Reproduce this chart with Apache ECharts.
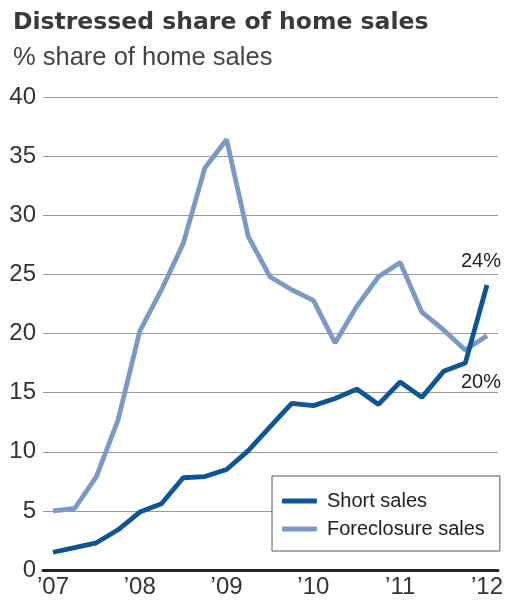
<!DOCTYPE html>
<html><head><meta charset="utf-8">
<script src="https://cdn.jsdelivr.net/npm/echarts@6/dist/echarts.min.js"></script>
<style>html,body{margin:0;padding:0;background:#fff}#c{width:510px;height:602px}</style>
</head><body><div id="c"></div>
<script>
// Quarterly data, Q1 2007 .. Q1 2012
const quarters = ['2007Q1','2007Q2','2007Q3','2007Q4','2008Q1','2008Q2','2008Q3','2008Q4','2009Q1','2009Q2','2009Q3','2009Q4','2010Q1','2010Q2','2010Q3','2010Q4','2011Q1','2011Q2','2011Q3','2011Q4','2012Q1'];
const shortSales = [1.5,1.9,2.3,3.4,4.9,5.6,7.8,7.9,8.5,10.1,12.1,14.1,13.9,14.5,15.3,14.0,15.9,14.6,16.8,17.5,24.1];
const foreclosureSales = [5.0,5.2,7.9,12.7,20.2,23.7,27.6,34.0,36.4,28.2,24.8,23.7,22.8,19.2,22.3,24.8,26.0,21.8,20.3,18.6,19.8];
const yearTicks = [2007,2008,2009,2010,2011,2012];
const yearLabels = ['\u201907','\u201908','\u201909','\u201910','\u201911','\u201912'];
const endLabels = ['24%','20%'];

const FONT = '"Liberation Sans", Arial, sans-serif';
const toX = i => 2007 + i / 4;
const pts = vals => vals.map((v, i) => [toX(i), v]);

const chart = echarts.init(document.getElementById('c'));
chart.setOption({
  animation: false,
  title: [
    { text: 'Distressed share of home sales', left: 8, top: 6,
      textStyle: { fontFamily: '"DejaVu Sans", sans-serif', fontSize: 23.5, fontWeight: 'bold', color: '#3a3a3a' } },
    { text: '% share of home sales', left: 8, top: 40,
      textStyle: { fontFamily: FONT, fontSize: 25.5, fontWeight: 'normal', color: '#444' } }
  ],
  grid: { left: 43, right: 12, top: 97, bottom: 32 },
  legend: {
    orient: 'vertical', left: 272, top: 476,
    padding: [15, 15, 12, 10], itemGap: 8,
    borderColor: '#555', borderWidth: 1, backgroundColor: '#fff',
    icon: 'roundRect', itemWidth: 35, itemHeight: 5,
    textStyle: { fontFamily: FONT, fontSize: 20, color: '#222', padding: [0, 0, 0, 5] },
    data: ['Short sales', 'Foreclosure sales']
  },
  xAxis: {
    type: 'value', min: 2006.885, max: 2012.127,
    axisLine: { show: true, onZero: true, lineStyle: { color: '#222', width: 3 } },
    axisTick: { show: false }, splitLine: { show: false },
    axisLabel: {
      customValues: yearTicks,
      formatter: v => yearLabels[yearTicks.indexOf(Math.round(v))] || '',
      fontFamily: FONT, fontSize: 24, color: '#333', margin: 5
    }
  },
  yAxis: {
    type: 'value', min: 0, max: 40, interval: 5,
    axisLine: { show: false }, axisTick: { show: false },
    splitLine: { lineStyle: { color: '#999', width: 1 } },
    axisLabel: { fontFamily: FONT, fontSize: 24, color: '#333', margin: 7 }
  },
  series: [
    { name: 'Short sales', type: 'line', data: pts(shortSales),
      showSymbol: false, symbol: 'none', lineStyle: { color: '#0c5596', width: 4.8 }, itemStyle: { color: '#0c5596' }, z: 3,
      endLabel: { show: true, formatter: endLabels[0], align: 'center', verticalAlign: 'middle', distance: 0, offset: [-6, -24],
        fontFamily: FONT, fontSize: 20, color: '#222' } },
    { name: 'Foreclosure sales', type: 'line', data: pts(foreclosureSales),
      showSymbol: false, symbol: 'none', lineStyle: { color: '#7b99c6', width: 4.8 }, itemStyle: { color: '#7b99c6' }, z: 2,
      endLabel: { show: true, formatter: endLabels[1], align: 'center', verticalAlign: 'middle', distance: 0, offset: [-6, 47],
        fontFamily: FONT, fontSize: 20, color: '#222' } }
  ]
});
</script></body></html>
